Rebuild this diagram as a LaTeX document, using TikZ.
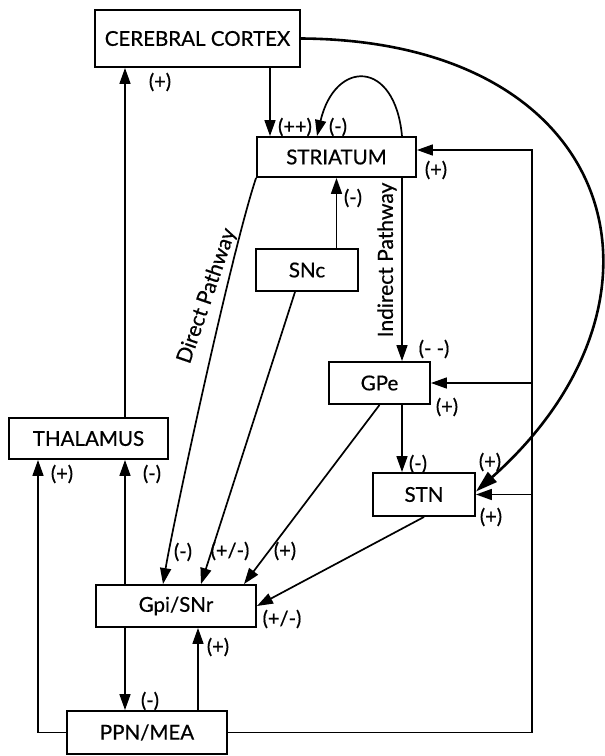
\documentclass[tikz,border=0pt]{standalone}
\usepackage{fontspec}
\setmainfont{Lato}[FakeBold=0.6]
\usetikzlibrary{arrows.meta}

\begin{document}
\begin{tikzpicture}[x=1pt,y=-1pt,
    box/.style={draw,line width=1.9pt,inner sep=0pt,font=\fontsize{20.5}{24}\selectfont},
    arr/.style={line width=1.7pt,-{Triangle[length=16pt,width=11pt]}},
    sgn/.style={inner sep=0pt,font=\fontsize{20}{22}\selectfont},
    way/.style={inner sep=0pt,font=\fontsize{21}{24}\selectfont}]
    \useasboundingbox (0,0) rectangle (605,756);
    % boxes
    \node[box,minimum width=205pt,minimum height=57pt] (cortex) at (197.5,38.5) {CEREBRAL CORTEX};
    \node[box,minimum width=159pt,minimum height=40pt] (stria) at (336.5,157) {STRIATUM};
    \node[box,minimum width=102pt,minimum height=42pt] (snc) at (307,270) {SNc};
    \node[box,minimum width=101pt,minimum height=42pt] (gpe) at (379.5,383) {GPe};
    \node[box,minimum width=159pt,minimum height=41pt] (thal) at (88.5,438.5) {THALAMUS};
    \node[box,minimum width=102pt,minimum height=43pt] (stn) at (424,494.5) {STN};
    \node[box,minimum width=160pt,minimum height=42pt] (gpi) at (176,606) {Gpi/SNr};
    \node[box,minimum width=160pt,minimum height=43pt] (ppn) at (147,732.5) {PPN/MEA};
    \coordinate (rt) at (532,150);
    % connections
    \draw[arr] ([xshift=72.5pt]cortex.south) -- ([xshift=72.5pt]cortex.south |- stria.north);
    \draw[arr] ([xshift=65.5pt]stria.north) .. controls +(-7,-77) and +(18,-77) .. ([xshift=-19.5pt]stria.north);
    \draw[arr] (stria.south |- snc.north) -- (stria.south);
    \draw[arr] ([xshift=22.5pt]gpe.north |- stria.south) -- ([xshift=22.5pt]gpe.north);
    \draw[arr] ([xshift=22.5pt]gpe.south) -- ([xshift=22.5pt]gpe.south |- stn.north);
    \draw[line width=2.6pt,-{Triangle[length=22pt,width=13pt]}] (cortex.east) .. controls +(320,2) and +(215,-191) .. ([yshift=3pt]stn.east);
    \draw[arr] (ppn.east) -| (rt) -- (rt -| stria.east);
    \draw[arr] (rt |- gpe.east) -- (gpe.east);
    \draw[arr] (rt |- stn.east) -- (stn.east);
    \draw[arr] (stria.south west) .. controls +(-25,75) and +(10,-60) .. ([xshift=-13pt]gpi.north);
    \draw[arr] ([xshift=-12pt]snc.south) -- ([xshift=25pt]gpi.north);
    \draw[arr] (gpe.south) -- ([xshift=68pt]gpi.north);
    \draw[arr] (stn.south) -- (gpi.east);
    \draw[arr] ([xshift=-51pt]gpi.north) -- ([xshift=-51pt]gpi.north |- thal.south);
    \draw[arr] ([xshift=36.5pt]thal.north) -- ([xshift=36.5pt]thal.north |- cortex.south);
    \draw[arr] (ppn.west) -| ([xshift=-50.5pt]thal.south);
    \draw[arr] ([xshift=-51pt]gpi.south) -- ([xshift=-51pt]gpi.south |- ppn.north);
    \draw[arr] ([xshift=51pt]ppn.north) -- ([xshift=51pt]ppn.north |- gpi.south);
    % pathway names
    \node[way,rotate=71] (dirp) at (207,296) {Direct Pathway};
    \node[way,rotate=90] (indp) at (387,260) {Indirect Pathway};
    % signs
    \node[sgn] (s1) at (160,82) {(+)};
    \node[sgn] (s2) at (295,127) {(++)};
    \node[sgn] (s3) at (338,127) {(-)};
    \node[sgn] (s4) at (436,170) {(+)};
    \node[sgn] (s5) at (353,198) {(-)};
    \node[sgn] (s6) at (434,349) {(- -)};
    \node[sgn] (s7) at (447,407) {(+)};
    \node[sgn] (s8) at (418,464) {(-)};
    \node[sgn] (s9) at (490,462) {(+)};
    \node[sgn] (s10) at (491,517) {(+)};
    \node[sgn] (s11) at (62,474) {(+)};
    \node[sgn] (s12) at (152,474) {(-)};
    \node[sgn] (s13) at (183,552) {(-)};
    \node[sgn] (s14) at (230,551) {(+/-)};
    \node[sgn] (s15) at (285,551) {(+)};
    \node[sgn] (s16) at (282,619) {(+/-)};
    \node[sgn] (s17) at (218,647) {(+)};
    \node[sgn] (s18) at (150,701) {(-)};
\end{tikzpicture}
\end{document}
